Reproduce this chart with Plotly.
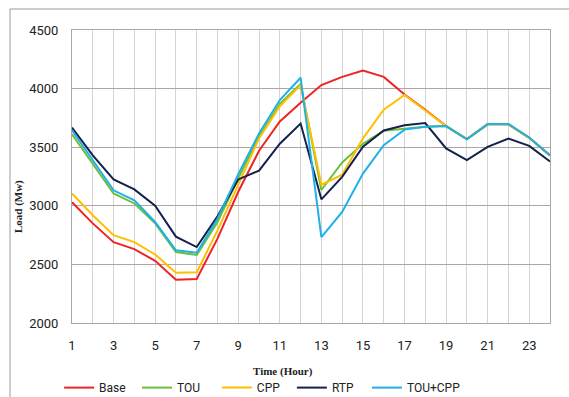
import plotly.graph_objects as go

hours = list(range(1, 25))
base = [3030, 2850, 2690, 2630, 2530, 2370, 2375, 2720, 3120, 3470, 3720, 3880,
        4030, 4100, 4155, 4100, 3950, 3820, 3680, 3570, 3695, 3695, 3580, 3430]
tou = [3610, 3360, 3105, 3020, 2850, 2605, 2580, 2860, 3235, 3590, 3870, 4040,
       3135, 3370, 3530, 3640, 3655, 3675, 3680, 3570, 3695, 3695, 3580, 3430]
cpp = [3105, 2920, 2750, 2690, 2585, 2428, 2432, 2790, 3180, 3575, 3850, 4030,
       3180, 3265, 3575, 3820, 3945, 3815, 3680, 3570, 3695, 3695, 3580, 3430]
rtp = [3668, 3430, 3225, 3140, 3000, 2737, 2648, 2910, 3225, 3300, 3530, 3702,
       3055, 3247, 3505, 3643, 3688, 3706, 3490, 3390, 3503, 3574, 3511, 3378]
toucpp = [3645, 3390, 3132, 3047, 2862, 2620, 2600, 2890, 3270, 3617, 3902, 4093,
          2733, 2947, 3275, 3517, 3650, 3674, 3680, 3568, 3697, 3697, 3583, 3430]

names = ["Base", "TOU", "CPP", "RTP", "TOU+CPP"]
series = [base, tou, cpp, rtp, toucpp]
colors = ["#ee2424", "#6cbf3a", "#ffbf00", "#14204e", "#1eb0e6"]
legend_x = [-0.027, 0.136, 0.303, 0.46, 0.617]

x_ticks = list(range(1, 24, 2))
y_ticks = [2000, 2500, 3000, 3500, 4000, 4500]

fig = go.Figure()
legend_ids = ["legend", "legend2", "legend3", "legend4", "legend5"]
for n, s, c, lid in zip(names, series, colors, legend_ids):
    fig.add_trace(go.Scatter(x=hours, y=s, name=n, mode="lines", legend=lid,
                             line=dict(color=c, width=2)))

tick_font = dict(family="Roboto, sans-serif", size=13, color="#222")
leg_font = dict(family="Roboto, sans-serif", size=12, color="#222")

layout_legends = {}
for lid, lx in zip(legend_ids, legend_x):
    layout_legends[lid] = dict(orientation="h", x=lx, xanchor="left", y=-0.171, yanchor="top",
                               font=leg_font, itemwidth=30, bgcolor="rgba(0,0,0,0)")

fig.update_layout(
    width=569, height=397,
    margin=dict(l=72, r=19, t=30, b=74, autoexpand=False),
    paper_bgcolor="white", plot_bgcolor="white",
    showlegend=True,
    **layout_legends,
    xaxis=dict(range=[1, 24], tickvals=x_ticks, ticktext=[str(v) for v in x_ticks],
               showgrid=True, gridcolor="#d4d4d4", gridwidth=1,
               minor=dict(dtick=1, tick0=1, showgrid=True, gridcolor="#d4d4d4", gridwidth=1),
               showline=True, linecolor="#a8a8a8", linewidth=1, mirror=True,
               ticks="", tickfont=tick_font, zeroline=False, ticklabelstandoff=10),
    yaxis=dict(range=[2000, 4500], tickvals=y_ticks, ticktext=[str(v) for v in y_ticks],
               showgrid=True, gridcolor="#b3a3a3", gridwidth=1,
               showline=True, linecolor="#a8a8a8", linewidth=1, mirror=True,
               ticks="", tickfont=tick_font, zeroline=False, ticklabelstandoff=10),
    annotations=[
        dict(text="<b>Time (Hour)</b>", xref="paper", yref="paper",
             x=0.441, y=-0.167, xanchor="center", yanchor="middle", showarrow=False,
             font=dict(family="Liberation Serif, serif", size=11, color="#222")),
        dict(text="<b>Load (Mw)</b>", xref="paper", yref="paper",
             x=-0.113, y=0.399, xanchor="center", yanchor="middle", showarrow=False,
             textangle=-90,
             font=dict(family="Liberation Serif, serif", size=11, color="#222")),
    ],
    shapes=[
        dict(type="rect", xref="paper", yref="paper",
             x0=-0.1297, x1=1.2, y0=-0.5, y1=1.0717,
             line=dict(color="#9a9a9a", width=1), fillcolor="rgba(0,0,0,0)", layer="below"),
    ],
)

fig.write_html("out.html")
